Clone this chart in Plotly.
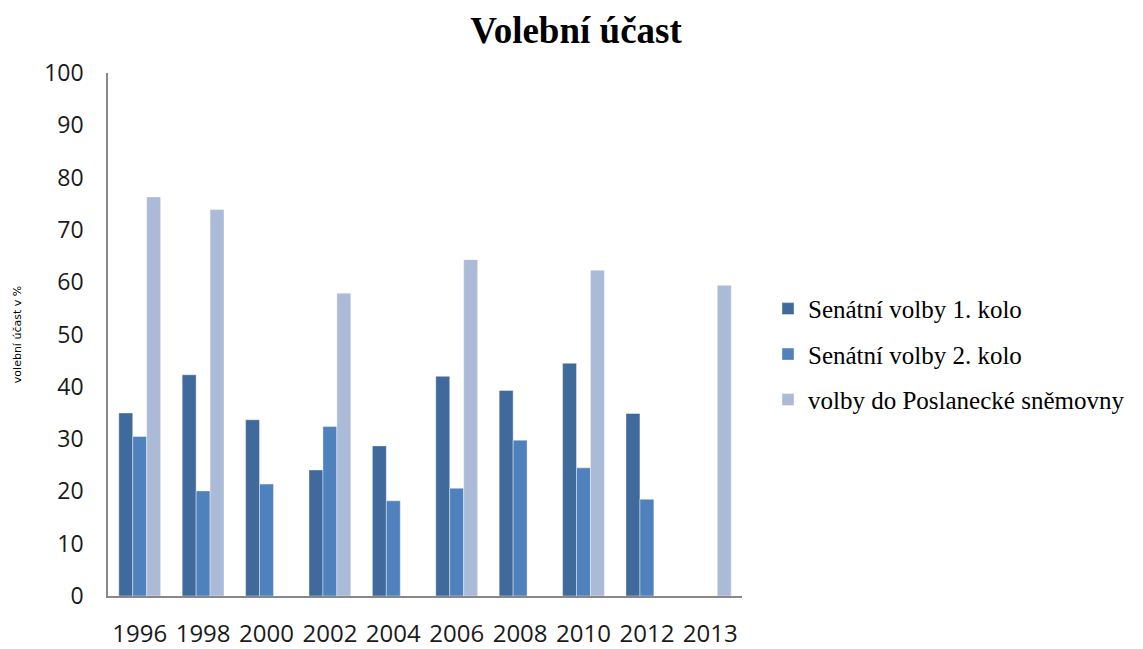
import plotly.graph_objects as go

years = ["1996", "1998", "2000", "2002", "2004", "2006", "2008", "2010", "2012", "2013"]
senat_1 = [35.0, 42.3, 33.7, 24.1, 28.7, 42.0, 39.3, 44.5, 34.9, None]
senat_2 = [30.5, 20.1, 21.4, 32.4, 18.2, 20.6, 29.8, 24.5, 18.5, None]
snemovna = [76.3, 73.9, None, 57.9, None, 64.3, None, 62.3, None, 59.4]

names = ["Senátní volby 1. kolo", "Senátní volby 2. kolo", "volby do Poslanecké sněmovny"]
colors = ["#416A9C", "#4F81BD", "#AABAD7"]
series = [senat_1, senat_2, snemovna]

fig = go.Figure()
for i, (n, c, s) in enumerate(zip(names, colors, series)):
    fig.add_trace(go.Bar(
        x=years, y=s, name=n, legendgroup=str(i),
        marker=dict(color=c, line=dict(color="rgba(255,255,255,0.5)", width=0.8)),
    ))

fig.update_layout(
    width=1143, height=649,
    margin=dict(l=100, r=409, t=65, b=61),
    paper_bgcolor="white", plot_bgcolor="white",
    barmode="group", bargap=0.34, bargroupgap=0,
    title=dict(text="<b>Volební účast</b>", x=0.497, xanchor="center", y=0.966, yanchor="middle",
               font=dict(family="Liberation Serif", size=37, color="black")),
    legend=dict(x=1.041, xanchor="left", y=0.593, yanchor="top",
                font=dict(family="Liberation Serif", size=25, color="black"),
                tracegroupgap=10, itemwidth=30, traceorder="grouped"),
    font=dict(family="Open Sans", color="black"),
)
fig.update_xaxes(showline=True, linecolor="#888888", linewidth=1.5, ticks="", automargin=False,
                 tickfont=dict(family="Open Sans", size=24, color="#1a1a1a"),
                 ticklabelstandoff=15, showgrid=False)
fig.update_yaxes(range=[0, 100], dtick=10, showline=True, linecolor="#888888", linewidth=1.5,
                 ticks="", showgrid=False, zeroline=False, ticklabelstandoff=18, automargin=False,
                 tickfont=dict(family="Open Sans", size=23, color="#1a1a1a"),
                 title=dict(text="volební účast v %", font=dict(family="DejaVu Sans", size=11, color="black"),
                            standoff=20))

fig.write_html("out.html")
